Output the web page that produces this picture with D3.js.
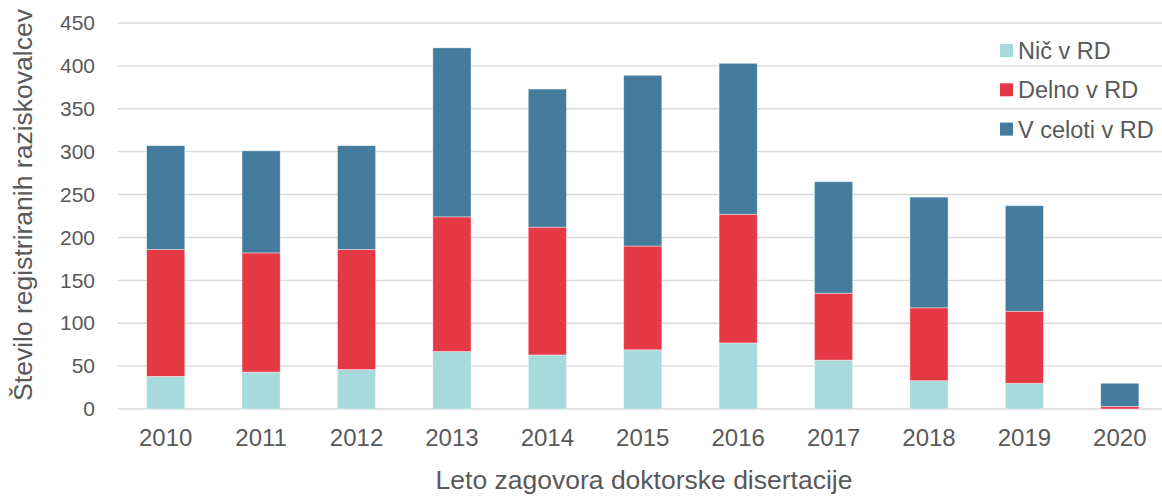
<!DOCTYPE html>
<html>
<head>
<meta charset="utf-8">
<script src="https://cdn.jsdelivr.net/npm/d3@7"></script>
<style>
  body { margin: 0; background: #fff; }
  svg { display: block; font-family: "Liberation Sans", Arial, sans-serif; }
</style>
</head>
<body>
<svg id="chart" width="1162" height="496"></svg>
<script>
// data
var years = ["2010","2011","2012","2013","2014","2015","2016","2017","2018","2019","2020"];
var nic = [38, 43, 46, 67, 63, 69, 77, 57, 33, 30, 0];
var delno = [148, 139, 140, 157, 149, 121, 150, 78, 85, 84, 3];
var vCeloti = [121, 119, 121, 197, 161, 199, 176, 130, 129, 123, 27];
var seriesNames = ["Nič v RD", "Delno v RD", "V celoti v RD"];
var colors = ["#A8DADC", "#E63946", "#457B9D"];
var yTicks = [0, 50, 100, 150, 200, 250, 300, 350, 400, 450];

var svg = d3.select("#chart");
var plotLeft = 118, plotRight = 1167.5, plotTop = 23, plotBottom = 409;

var rows = years.map(function(y, i){
  return { year: y, nic: nic[i], delno: delno[i], vCeloti: vCeloti[i] };
});
var keys = ["nic", "delno", "vCeloti"];
var stacked = d3.stack().keys(keys)(rows);

var x = d3.scaleBand().domain(years).range([plotLeft, plotRight]).paddingInner(0.6).paddingOuter(0.3);
var y = d3.scaleLinear().domain([0, 450]).range([plotBottom, plotTop]);

// gridlines
svg.append("g").selectAll("line")
  .data(yTicks).enter()
  .append("line")
  .attr("x1", plotLeft).attr("x2", 1162)
  .attr("y1", function(d){ return y(d); })
  .attr("y2", function(d){ return y(d); })
  .attr("stroke", "#d9d9d9")
  .attr("stroke-width", 1.4);

// y axis labels
var yAxis = d3.axisLeft(y).tickValues(yTicks).tickSize(0).tickPadding(0);
var gy = svg.append("g").attr("transform", "translate(95,0)").call(yAxis);
gy.select(".domain").remove();
gy.selectAll("text").attr("fill", "#595959").style("font-size", "21px")
  .style("font-family", "Liberation Sans, Arial, sans-serif");

// bars
svg.append("g").selectAll("g")
  .data(stacked).enter()
  .append("g")
  .attr("fill", function(d, i){ return colors[i]; })
  .selectAll("rect")
  .data(function(d){ return d; }).enter()
  .append("rect")
  .attr("x", function(d){ return x(d.data.year); })
  .attr("width", x.bandwidth())
  .attr("y", function(d){ return y(d[1]); })
  .attr("height", function(d){ return y(d[0]) - y(d[1]); })
  .attr("stroke", "rgba(255,255,255,0.5)")
  .attr("stroke-width", 0.8);

// x axis labels
var xAxis = d3.axisBottom(x).tickSize(0).tickPadding(0);
var gx = svg.append("g").attr("transform", "translate(0,429)").call(xAxis);
gx.select(".domain").remove();
gx.selectAll("text").attr("fill", "#595959").attr("dy", "0.71em").attr("y", 0)
  .style("font-size", "24px").style("font-family", "Liberation Sans, Arial, sans-serif");

// axis titles
svg.append("text")
  .attr("x", 644).attr("y", 489)
  .attr("text-anchor", "middle")
  .attr("fill", "#595959")
  .style("font-size", "26.5px")
  .text("Leto zagovora doktorske disertacije");

svg.append("text")
  .attr("transform", "translate(32,205) rotate(-90)")
  .attr("text-anchor", "middle")
  .attr("fill", "#595959")
  .style("font-size", "26.5px")
  .text("Število registriranih raziskovalcev");

// legend
var legend = svg.append("g").selectAll("g")
  .data(seriesNames).enter()
  .append("g")
  .attr("transform", function(d, i){ return "translate(1000," + (50.5 + i * 39.3) + ")"; });
legend.append("rect")
  .attr("x", 0).attr("y", -6.5).attr("width", 13).attr("height", 13)
  .attr("fill", function(d, i){ return colors[i]; });
legend.append("text")
  .attr("x", 18).attr("y", 0).attr("dy", "0.36em")
  .attr("fill", "#595959")
  .style("font-size", "23.5px")
  .text(function(d){ return d; });
</script>
</body>
</html>
